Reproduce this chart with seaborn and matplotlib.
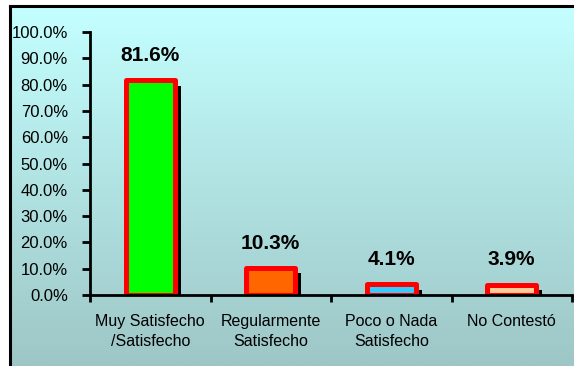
import numpy as np
import pandas as pd
import seaborn as sns
import matplotlib
matplotlib.use("Agg")
import matplotlib.pyplot as plt
import matplotlib.patheffects as pe
from matplotlib.colors import LinearSegmentedColormap

categories = ["Muy Satisfecho\n/Satisfecho", "Regularmente\nSatisfecho", "Poco o Nada\nSatisfecho", "No Contestó"]
values = [81.6, 10.3, 4.1, 3.9]
value_labels = ["81.6%", "10.3%", "4.1%", "3.9%"]
bar_colors = ["#00FF00", "#FF6600", "#33CCFF", "#FFCC99"]
y_ticks = [0, 10, 20, 30, 40, 50, 60, 70, 80, 90, 100]

sns.set_theme(style="white")
plt.rcParams["font.family"] = ["Liberation Sans", "DejaVu Sans"]

W, H = 574, 366
fig = plt.figure(figsize=(W / 100, H / 100), dpi=100)
fig.patch.set_facecolor("white")

# gradient background panel
bg = fig.add_axes([10 / W, 0, 1 - 10 / W, (H - 6) / H])
grad = np.linspace(0, 1, 256).reshape(-1, 1)
cmap = LinearSegmentedColormap.from_list("bg", ["#C4FFFF", "#9EC6C6"])
bg.imshow(grad, aspect="auto", cmap=cmap, extent=[0, 1, 0, 1], origin="upper")
bg.set_xlim(0, 1)
bg.set_ylim(0, 1)
bg.set_xticks([])
bg.set_yticks([])
for s in ["right", "bottom"]:
    bg.spines[s].set_visible(False)
for s in ["top", "left"]:
    bg.spines[s].set_color("black")
    bg.spines[s].set_linewidth(2.2)

ax = fig.add_axes([90 / W, (H - 295) / H, (572 - 90) / W, (295 - 32) / H])
ax.patch.set_alpha(0)

df = pd.DataFrame({"cat": categories, "val": values})
sns.barplot(data=df, x="cat", y="val", hue="cat", palette=bar_colors,
            legend=False, width=0.41, ax=ax, saturation=1)

shadow = [pe.SimplePatchShadow(offset=(4, -4), shadow_rgbFace="black", alpha=1.0), pe.Normal()]
for p in ax.patches:
    p.set_edgecolor("#FF0000")
    p.set_linewidth(3.6)
    p.set_joinstyle("round")
    p.set_path_effects(shadow)

for i, (v, lab) in enumerate(zip(values, value_labels)):
    ax.annotate(lab, (i, v), xytext=(0, 11), textcoords="offset points",
                ha="center", va="bottom", fontsize=15, fontweight="bold", color="black")

ax.set_xlim(-0.5, 3.5)
ax.set_ylim(0, 100)
ax.set_yticks(y_ticks)
ax.set_yticklabels([f"{t:.1f}%" for t in y_ticks], fontsize=12, color="black")
ax.set_xticks(range(len(categories)))
ax.set_xticklabels(categories, fontsize=11.5, color="black", linespacing=1.35, va="top")
ax.set_xticks(np.arange(-0.5, 4, 1.0), minor=True)
ax.tick_params(axis="x", which="major", length=0, pad=14, bottom=True)
ax.tick_params(axis="x", which="minor", length=5, width=2, color="black", direction="out", bottom=True)
ax.tick_params(axis="y", which="major", length=6, width=2, color="black", direction="out", pad=10, left=True)
ax.set_xlabel("")
ax.set_ylabel("")
for s in ["top", "right"]:
    ax.spines[s].set_visible(False)
for s in ["left", "bottom"]:
    ax.spines[s].set_color("black")
    ax.spines[s].set_linewidth(2)

fig.savefig("out.png", dpi=100)
